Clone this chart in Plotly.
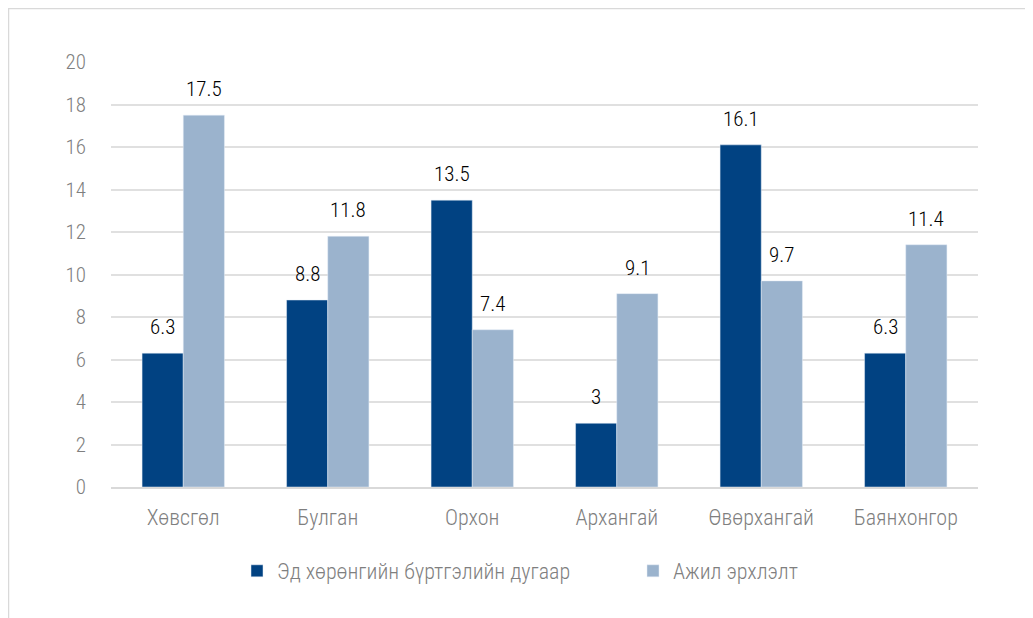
import plotly.graph_objects as go

categories = ["Хөвсгөл", "Булган", "Орхон", "Архангай", "Өвөрхангай", "Баянхонгор"]
series1_name = "Эд хөрөнгийн бүртгэлийн дугаар"
series1 = [6.3, 8.8, 13.5, 3, 16.1, 6.3]
series2_name = "Ажил эрхлэлт"
series2 = [17.5, 11.8, 7.4, 9.1, 9.7, 11.4]
y_ticks = [0, 2, 4, 6, 8, 10, 12, 14, 16, 18, 20]

FONT = "Roboto Condensed, DejaVu Sans Condensed, sans-serif"
FS = 22
WT = 300
GRAY = "#7f7f7f"

fig = go.Figure()
fig.add_trace(go.Bar(x=categories, y=series1, name=series1_name, marker_color="#014282",
                     legend="legend", showlegend=True))
fig.add_trace(go.Bar(x=categories, y=series2, name=series2_name, marker_color="#9bb3cd",
                     legend="legend2", showlegend=True))

W, H = 1033, 618
OFF = 8  # page body margin
L, T = 111 - OFF, 62 - OFF
R = W - (978 - OFF)
B = H - (487 - OFF)
pw, ph = W - L - R, H - T - B
bargap = 0.43
half_bar = pw / len(categories) * (1 - bargap) / 4

for vals, sign in ((series1, -1), (series2, 1)):
    for c, v in zip(categories, vals):
        fig.add_annotation(x=c, y=v, text=str(v), showarrow=False, xref="x", yref="y",
                           xshift=sign * half_bar, yshift=12, yanchor="bottom",
                           font=dict(family=FONT, size=FS - 1, color="#000000", weight=WT))

leg_font = dict(family=FONT, size=FS, color=GRAY, weight=WT)
leg_y = (487 - 571) / ph
fig.update_layout(
    width=W, height=H,
    margin=dict(l=L, r=R, t=T, b=B),
    paper_bgcolor="white", plot_bgcolor="white",
    showlegend=True,
    barmode="group", bargap=bargap, bargroupgap=0,
    font=dict(family=FONT, color=GRAY, size=FS, weight=WT),
    xaxis=dict(showgrid=False, showline=True, linecolor="#d9d9d9", linewidth=1.5,
               ticks="", tickfont=dict(size=FS, color=GRAY, weight=WT), ticklabelstandoff=10),
    yaxis=dict(range=[0, 20], tickvals=y_ticks, showgrid=True, gridcolor="#e0e0e0", gridwidth=1.5,
               zeroline=False, showline=False, ticks="", tickfont=dict(size=FS - 1, color=GRAY, weight=WT),
               ticklabelstandoff=24),
    legend=dict(orientation="h", x=(237 - 111) / pw, xanchor="left", y=leg_y, yanchor="middle",
                font=leg_font, itemwidth=30, visible=True),
    legend2=dict(orientation="h", x=(633 - 111) / pw, xanchor="left", y=leg_y, yanchor="middle",
                 font=leg_font, itemwidth=30, visible=True),
)
fig.add_shape(type="rect", xref="paper", yref="paper",
              x0=(0.5 - L) / pw, x1=(1045 - L) / pw, y0=-(B + 30) / ph, y1=1 + (T - 0.5) / ph,
              line=dict(color="#d9d9d9", width=1.5), fillcolor="rgba(0,0,0,0)", layer="below")

fig.write_html("out.html")
